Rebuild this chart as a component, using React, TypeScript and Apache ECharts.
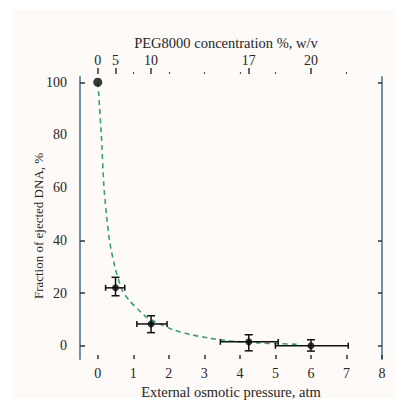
import React, { useEffect, useRef } from "react";
import * as echarts from "echarts";

// Data (osmotic pressure in atm, fraction ejected in %)
const pressure = [0, 0.5, 1.5, 4.25, 6];
const fraction = [100, 22, 8.3, 1.5, 0];
const xLow = [0, 0.22, 1.1, 3.45, 5.0];
const xHigh = [0, 0.76, 1.95, 5.08, 7.05];
const yLow = [100, 19, 5, -1.9, -2];
const yHigh = [100, 26, 11.4, 4.2, 2.3];

// Fitted curve (green dashed)
const fitX = [0, 0.03, 0.1, 0.17, 0.25, 0.34, 0.5, 0.69, 0.9, 1.15, 1.4, 1.8, 2.14, 2.6, 3.1, 3.65, 4.5, 5.15, 5.6];
const fitY = [100, 95, 80, 61, 49, 39, 29, 21, 17, 13.6, 10.6, 8, 6, 4.3, 3, 1.9, 1.1, 0.8, 0.6];

// Axis ticks / labels
const bottomTicks = [0, 1, 2, 3, 4, 5, 6, 7, 8];
const topTickPos = [0, 0.5, 1.5, 4.25, 6];
const topTickLabels = ["0", "5", "10", "17", "20"];
const topMinorTicks = [1, 2, 3, 4, 5, 7];
const yLabels = [0, 20, 40, 60, 80, 100];
const yTicks = [0, 20, 40, 100];

const xTitle = "External osmotic pressure, atm";
const yTitle = "Fraction of ejected DNA, %";
const topTitle = "PEG8000 concentration %, w/v";

const FONT = "'Liberation Serif', 'DejaVu Serif', serif";
const TEXT = "#262626";
const AXIS = "#6f93a6";

export default function App() {
  const ref = useRef<HTMLDivElement>(null);
  useEffect(() => {
    document.body.style.margin = "0";
    const chart = echarts.init(ref.current!, null, { renderer: "svg" });
    const errData = pressure.map((x, i) => [x, fraction[i], xLow[i], xHigh[i], yLow[i], yHigh[i]]);
    const option: any = {
      animation: false,
      backgroundColor: "#ffffff",
      grid: { left: 80, right: 13, top: 77, bottom: 42 },
      xAxis: [
        {
          type: "value", position: "bottom", min: -0.5, max: 8,
          axisLine: { show: false, onZero: false },
          splitLine: { show: false },
          axisTick: { show: true, inside: true, length: 4, customValues: bottomTicks, lineStyle: { color: "#333", width: 1.5 } },
          axisLabel: { customValues: bottomTicks, margin: 7, fontFamily: FONT, fontSize: 14, color: TEXT },
        },
        {
          type: "value", position: "top", min: -0.5, max: 8, offset: 3,
          axisLine: { show: false, onZero: false },
          splitLine: { show: false },
          axisTick: { show: true, length: 6, customValues: topTickPos, lineStyle: { color: "#333", width: 1.5 } },
          axisLabel: {
            customValues: topTickPos, margin: 7, fontFamily: FONT, fontSize: 14, color: TEXT,
            formatter: (v: number) => {
              const i = topTickPos.findIndex((p) => Math.abs(p - v) < 1e-6);
              return i >= 0 ? topTickLabels[i] : "";
            },
          },
        },
        {
          type: "value", position: "top", min: -0.5, max: 8, offset: 3,
          axisLine: { show: false, onZero: false },
          splitLine: { show: false },
          axisTick: { show: true, length: 2, customValues: topMinorTicks, lineStyle: { color: "#555", width: 1.2 } },
          axisLabel: { show: false },
        },
      ],
      yAxis: [
        {
          type: "value", position: "left", min: -5, max: 102,
          axisLine: { show: true, onZero: false, lineStyle: { color: AXIS, width: 2 } },
          splitLine: { show: false },
          axisTick: { show: true, inside: true, length: 5, customValues: yTicks, lineStyle: { color: "#333", width: 1.5 } },
          axisLabel: { customValues: yLabels, margin: 13, fontFamily: FONT, fontSize: 14, color: TEXT },
        },
        {
          type: "value", position: "right", min: -5, max: 102,
          axisLine: { show: true, onZero: false, lineStyle: { color: AXIS, width: 2 } },
          splitLine: { show: false },
          axisTick: { show: true, inside: true, length: 4, customValues: yTicks, lineStyle: { color: "#333", width: 1.5 } },
          axisLabel: { show: false },
        },
      ],
      series: [
        {
          type: "line",
          xAxisIndex: 0, yAxisIndex: 0,
          data: fitX.map((x, i) => [x, fitY[i]]),
          smooth: 0.2,
          showSymbol: false,
          lineStyle: { color: "#34a080", width: 1.6, type: [5, 4] },
          z: 2,
        },
        {
          type: "custom",
          xAxisIndex: 0, yAxisIndex: 0,
          data: errData,
          encode: { x: [0, 2, 3], y: [1, 4, 5] },
          renderItem: (params: any, api: any) => {
            const x = api.value(0), y = api.value(1);
            const xl = api.value(2), xh = api.value(3);
            const yl = api.value(4), yh = api.value(5);
            const children: any[] = [];
            const st = { stroke: "#111", lineWidth: 1.5 };
            if (xh > xl) {
              const a = api.coord([xl, y]);
              const b = api.coord([xh, y]);
              children.push({ type: "line", shape: { x1: a[0], y1: a[1], x2: b[0], y2: b[1] }, style: st });
              children.push({ type: "line", shape: { x1: a[0], y1: a[1] - 3, x2: a[0], y2: a[1] + 3 }, style: st });
              children.push({ type: "line", shape: { x1: b[0], y1: b[1] - 3, x2: b[0], y2: b[1] + 3 }, style: st });
            }
            if (yh > yl) {
              const a = api.coord([x, yl]);
              const b = api.coord([x, yh]);
              children.push({ type: "line", shape: { x1: a[0], y1: a[1], x2: b[0], y2: b[1] }, style: st });
              children.push({ type: "line", shape: { x1: a[0] - 4, y1: a[1], x2: a[0] + 4, y2: a[1] }, style: st });
              children.push({ type: "line", shape: { x1: b[0] - 4, y1: b[1], x2: b[0] + 4, y2: b[1] }, style: st });
            }
            return { type: "group", children };
          },
          z: 3,
        },
        {
          type: "scatter",
          xAxisIndex: 0, yAxisIndex: 0,
          data: pressure.map((x, i) => [x, fraction[i]]),
          symbol: "circle",
          symbolSize: (v: number[]) => (v[1] >= 99 ? 9 : 7),
          itemStyle: { color: "#0a0a0a" },
          z: 4,
        },
      ],
      graphic: [
        { type: "rect", z: -10, shape: { x: 12, y: 10, width: 383, height: 388 }, style: { fill: "#fdfaf7" } },
        { type: "text", x: 231, y: 392, style: { text: xTitle, font: `14.5px ${FONT}`, fill: TEXT, textAlign: "center", textVerticalAlign: "middle" } },
        { type: "text", x: 226, y: 43, style: { text: topTitle, font: `14.5px ${FONT}`, fill: TEXT, textAlign: "center", textVerticalAlign: "middle" } },
        { type: "text", x: 38, y: 226, rotation: Math.PI / 2, style: { text: yTitle, font: `13px ${FONT}`, fill: TEXT, textAlign: "center", textVerticalAlign: "middle" } },
      ],
    };
    chart.setOption(option);
    return () => chart.dispose();
  }, []);
  return <div ref={ref} style={{ width: 395, height: 401 }} />;
}
